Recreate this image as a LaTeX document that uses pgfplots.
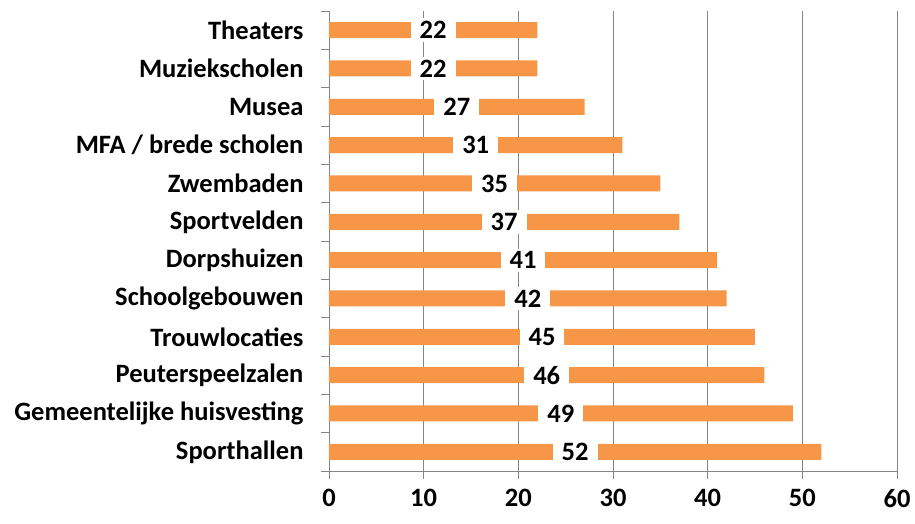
\documentclass[border=0pt]{standalone}
\usepackage{fontspec}
\setmainfont{Carlito}
\usepackage{pgfplots}
\pgfplotsset{compat=1.18}
\usepackage{pgfplotstable}
\definecolor{barc}{HTML}{F79646}
\definecolor{gridc}{HTML}{868686}
\pgfplotstableread{
idx v
0 52
1 49
2 46
3 45
4 42
5 41
6 37
7 35
8 31
9 27
10 22
11 22
}\data
\begin{document}
\begin{tikzpicture}
\begin{axis}[
 scale only axis, width=568pt, height=460pt,
 xmin=0, xmax=60, ymin=-0.5, ymax=11.5,
 xtick={0,10,...,60},
 ytick={-0.5,0.5,...,11.5},
 yticklabels={},
 extra y ticks={0,1,...,11},
 extra y tick labels={Sporthallen, Gemeentelijke huisvesting, Peuterspeelzalen, Trouwlocaties, Schoolgebouwen, Dorpshuizen, Sportvelden, Zwembaden, MFA / brede scholen, Musea, Muziekscholen, Theaters},
 extra y tick style={major tick length=0pt, yticklabel style={anchor=east, xshift=-22pt}},
 xmajorgrids, major grid style={gridc, line width=0.9pt},
 axis x line*=bottom, axis y line*=left,
 axis line style={gridc, line width=0.9pt, -},
 tick style={gridc, line width=0.9pt},
 tick align=outside,
 major tick length=8pt,
 /pgf/number format/assume math mode=true,
 ticklabel style={font=\fontsize{26.5}{30}\selectfont\bfseries},
 xticklabel style={yshift=-7pt},
 clip=false,
]
\addplot[xbar, bar width=16pt, bar shift=0pt, fill=barc, draw=none] table[x=v, y=idx] {\data};
\addplot[draw=none, mark=none, nodes near coords, point meta=explicit,
  nodes near coords style={fill=white, inner xsep=9pt, inner ysep=3pt, anchor=center, font=\fontsize{26.5}{30}\selectfont\bfseries, /pgf/number format/assume math mode=true}]
  table[x expr=\thisrow{v}/2, y=idx, meta=v] {\data};
\end{axis}
\pgfresetboundingbox
\path[use as bounding box] (-329pt,-53pt) rectangle (586pt,471pt);
\end{tikzpicture}
\end{document}
